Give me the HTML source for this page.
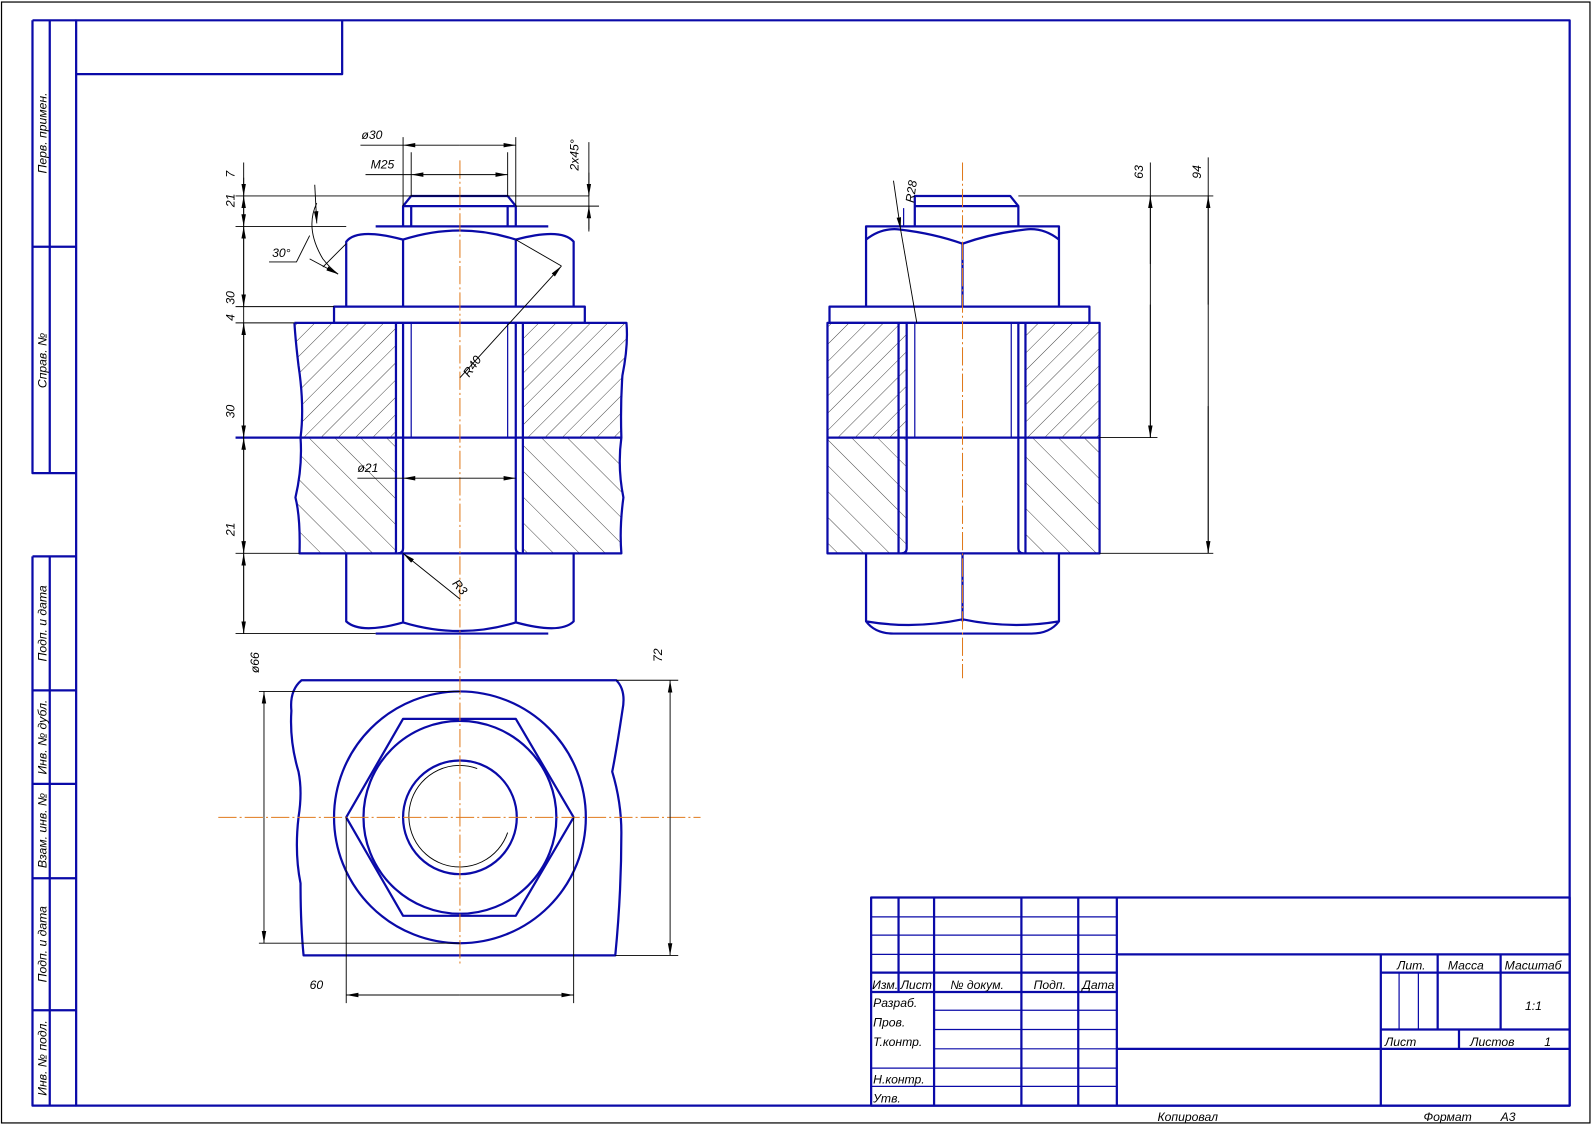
<!DOCTYPE html>
<html><head><meta charset="utf-8"><style>
html,body{margin:0;padding:0;background:#fff;}
svg{display:block}
text{font-family:"Liberation Sans","DejaVu Sans",sans-serif;font-style:italic;fill:#000}
.b{stroke:#0a0aa8;stroke-width:2.2;fill:none;stroke-linejoin:round}
.bt{stroke:#0a0aa8;stroke-width:1.2;fill:none}
.t{stroke:#000;stroke-width:0.9;fill:none}
.h{stroke:#000;stroke-width:0.7}
.c{stroke:#e07a1c;stroke-width:1;stroke-dasharray:18 3 2 3;fill:none}
.tb text{font-size:12px}
.v text{font-size:12px}
</style></head><body>
<svg width="1592" height="1127" viewBox="0 0 1568 1110" preserveAspectRatio="none" xmlns="http://www.w3.org/2000/svg">
<defs>
<marker id="a" viewBox="0 0 12 6" refX="12" refY="3" markerWidth="12" markerHeight="6" orient="auto" markerUnits="userSpaceOnUse"><path d="M0,0.8 L12,3 L0,5.2z" fill="#000"/></marker>
<pattern id="p1" width="12" height="12" patternUnits="userSpaceOnUse" patternTransform="rotate(45)"><line x1="0" y1="0" x2="0" y2="12" class="h"/></pattern>
<pattern id="p2" width="18" height="18" patternUnits="userSpaceOnUse" patternTransform="rotate(-45)"><line x1="0" y1="0" x2="0" y2="18" class="h"/></pattern>
</defs>

<!-- frames -->
<rect x="1.5" y="2" width="1564.5" height="1104" fill="none" stroke="#000" stroke-width="1.2"/>
<rect x="75" y="20" width="1471" height="1069" class="b"/>
<g class="b">
<path d="M32,20 V466 H75 M49,20 V466 M32,243 H75 M32,20 H75"/>
<path d="M32,548 V1089 H75 M49,548 V1089 M32,548 H75 M32,680 H75 M32,772 H75 M32,865 H75 M32,995 H75"/>
<path d="M75,73 H337 V20"/>
</g>
<g class="v" font-size="12">
<text transform="translate(46,131) rotate(-90)" text-anchor="middle">Перв. примен.</text>
<text transform="translate(46,355) rotate(-90)" text-anchor="middle">Справ. №</text>
<text transform="translate(46,614) rotate(-90)" text-anchor="middle">Подп. и дата</text>
<text transform="translate(46,726) rotate(-90)" text-anchor="middle">Инв. № дубл.</text>
<text transform="translate(46,818) rotate(-90)" text-anchor="middle">Взам. инв. №</text>
<text transform="translate(46,930) rotate(-90)" text-anchor="middle">Подп. и дата</text>
<text transform="translate(46,1042) rotate(-90)" text-anchor="middle">Инв. № подл.</text>
</g>

<!-- ===== FRONT VIEW ===== -->
<path d="M290,318 H390 V431 H296 Q300,400 294,360 Q291,335 290,318z" fill="url(#p1)"/>
<path d="M515,318 H617 Q619,340 613,370 Q611,400 612,431 H515z" fill="url(#p1)"/>
<path d="M296,431 H390 V545 H295 Q296,510 291,490 Q298,460 296,431z" fill="url(#p2)"/>
<path d="M515,431 H612 Q608,460 614,490 Q610,520 612,545 H515z" fill="url(#p2)"/>
<g class="b">
<path d="M397,223 V203 L405,193 H500 L508,203 V223 M397,203 H508"/>
<path d="M405,203 V223 M500,203 V223"/>
<path d="M341,302 V238 Q352,224 397,236 Q453,218 508,236 Q553,224 565,238 V302 M397,236 V302 M508,236 V302 M370,223 H540"/>
<rect x="329" y="302" width="247" height="16"/>
<path d="M290,318 H617 Q619,340 613,370 Q611,400 612,431 Q608,460 614,490 Q610,520 612,545 H295 Q296,510 291,490 Q298,460 296,431 Q300,400 294,360 Q291,335 290,318"/>
<path d="M232,431 H612 M390,318 V545 M515,318 V545"/>
<path d="M397,318 V540 Q397,545 392,545 M508,318 V540 Q508,545 513,545"/>
<path d="M341,545 V612 Q355,625 397,613 Q453,630 508,613 Q552,625 565,612 V545 M397,545 V613 M508,545 V613 M370,624 H540"/>
</g>
<path class="bt" d="M405,318 V431 M500,318 V431"/>
<line x1="453" y1="158" x2="453" y2="640" class="c"/>
<g class="t">
<path d="M240,160 V624"/>
<path d="M232,193 H580 M232,223 H341 M232,302 H329 M232,318 H290 M232,545 H295 M232,624 H370"/>
<path d="M240,175 V193" marker-end="url(#a)"/>
<path d="M240,210 V193" marker-end="url(#a)"/><path d="M240,210 V223" marker-end="url(#a)"/>
<path d="M240,260 V223" marker-end="url(#a)"/><path d="M240,260 V302" marker-end="url(#a)"/>
<path d="M240,370 V318" marker-end="url(#a)"/><path d="M240,370 V431" marker-end="url(#a)"/>
<path d="M240,490 V431" marker-end="url(#a)"/><path d="M240,490 V545" marker-end="url(#a)"/>
<path d="M240,590 V545" marker-end="url(#a)"/><path d="M240,590 V624" marker-end="url(#a)"/>
<path d="M397,135 V203 M508,135 V203 M405,150 V193 M500,150 V193"/>
<path d="M355,143 H397 M453,143 H397" marker-end="url(#a)"/><path d="M453,143 H508" marker-end="url(#a)"/>
<path d="M360,172 H405 M453,172 H405" marker-end="url(#a)"/><path d="M453,172 H500" marker-end="url(#a)"/>
<path d="M580,140 V228"/><path d="M580,170 V193" marker-end="url(#a)"/><path d="M580,226 V203" marker-end="url(#a)"/>
<path d="M508,203 H590"/>
<path d="M312,200 Q300,225 318,255 Q325,264 333,270"/>
<path d="M310,182 L312,220" marker-end="url(#a)"/>
<path d="M305,255 L333,270" marker-end="url(#a)"/>
<path d="M318,263 L341,240"/>
<path d="M265,258 H292 L305,232"/>
<path d="M453,372 L553,262" marker-end="url(#a)"/>
<path d="M508,236 L553,262"/>
<path d="M352,471 H397 M453,471 H397" marker-end="url(#a)"/><path d="M453,471 H508" marker-end="url(#a)"/>
<path d="M453,590 L397,545" marker-end="url(#a)"/>
</g>
<g class="v">
<text transform="translate(231,175) rotate(-90)">7</text>
<text transform="translate(231,204) rotate(-90)">21</text>
<text transform="translate(231,300) rotate(-90)">30</text>
<text transform="translate(231,316) rotate(-90)">4</text>
<text transform="translate(231,412) rotate(-90)">30</text>
<text transform="translate(231,528) rotate(-90)">21</text>
<text x="356" y="137" font-size="11">ø30</text>
<text x="365" y="166" font-size="11">M25</text>
<text transform="translate(570,168) rotate(-90)" font-size="11">2x45°</text>
<text x="268" y="253" font-size="12">30°</text>
<text transform="translate(462,372) rotate(-55)" font-size="11">R40</text>
<text x="352" y="465" font-size="11">ø21</text>
<text transform="translate(445,575) rotate(50)" font-size="11">R3</text>
</g>

<!-- ===== SIDE VIEW ===== -->
<rect x="815" y="318" width="78" height="113" fill="url(#p1)"/>
<rect x="1010" y="318" width="73" height="113" fill="url(#p1)"/>
<rect x="815" y="431" width="78" height="114" fill="url(#p2)"/>
<rect x="1010" y="431" width="73" height="114" fill="url(#p2)"/>
<g class="b">
<path d="M901,223 V193 H995 L1003,203 V223 M901,203 H1003"/>
<path d="M853,302 V223 H1043 V302 M853,236 Q868,224 886,226 Q920,230 948,240 Q976,230 1010,226 Q1028,224 1043,236 M948,240 V302"/>
<rect x="817" y="302" width="256" height="16"/>
<rect x="815" y="318" width="268" height="227"/>
<path d="M815,431 H1083 M885,318 V545 M1010,318 V545 M893,318 V540 Q893,545 888,545 M1003,318 V540 Q1003,545 1008,545"/>
<path d="M853,545 V612 Q862,624 880,624 H1016 Q1034,624 1043,612 V545 M853,612 Q900,620 948,610 Q996,620 1043,612 M948,545 V612"/>
</g>
<path class="bt" d="M901,318 V431 M996,318 V431 M890,205 V223"/>
<line x1="948" y1="160" x2="948" y2="668" class="c"/>
<g class="t">
<path d="M1003,193 H1195 M1083,431 H1140 M1083,545 H1195"/>
<path d="M1133,160 V431"/><path d="M1133,260 V193" marker-end="url(#a)"/><path d="M1133,300 V431" marker-end="url(#a)"/>
<path d="M1190,155 V545"/><path d="M1190,300 V193" marker-end="url(#a)"/><path d="M1190,400 V545" marker-end="url(#a)"/>
<path d="M903,318 L887,226"/><path d="M880,178 L887,226" marker-end="url(#a)"/>
</g>
<g class="v">
<text transform="translate(1126,176) rotate(-90)" font-size="11">63</text>
<text transform="translate(1183,176) rotate(-90)" font-size="11">94</text>
<text transform="translate(900,200) rotate(-82)" font-size="11">R28</text>
</g>

<!-- ===== TOP VIEW ===== -->
<g class="b">
<path d="M297,670 H607 Q617,680 613,700 Q607,740 603,760 Q612,790 612,820 Q612,880 606,941 H299 Q296,910 296,870 Q290,840 294,805 Q298,780 294,760 Q285,730 287,700 Q285,680 297,670z"/>
<circle cx="453" cy="805" r="124"/>
<path d="M341,805 L397,708 H508 L565,805 L508,902 H397z"/>
<circle cx="453" cy="805" r="95"/>
<circle cx="453" cy="805" r="56"/>
</g>
<path d="M470,757 A50,50 0 1,0 500,820" stroke="#000" stroke-width="0.9" fill="none"/>
<line x1="215" y1="805" x2="690" y2="805" class="c"/>
<line x1="453" y1="640" x2="453" y2="950" class="c"/>
<g class="t">
<path d="M255,681 H453 M255,929 H453"/>
<path d="M260,805 V681" marker-end="url(#a)"/><path d="M260,805 V929" marker-end="url(#a)"/>
<path d="M607,670 H668 M606,941 H668"/>
<path d="M660,805 V670" marker-end="url(#a)"/><path d="M660,805 V941" marker-end="url(#a)"/>
<path d="M341,805 V988 M565,805 V988"/>
<path d="M453,980 H341" marker-end="url(#a)"/><path d="M453,980 H565" marker-end="url(#a)"/>
</g>
<g class="v">
<text transform="translate(255,663) rotate(-90)" font-size="11">ø66</text>
<text transform="translate(652,652) rotate(-90)" font-size="11">72</text>
<text x="305" y="974" font-size="12">60</text>
</g>

<!-- ===== TITLE BLOCK ===== -->
<g class="b">
<rect x="858" y="884" width="688" height="205"/>
<path d="M885,884 V977 M920,884 V1089 M1006,884 V1089 M1062,884 V1089 M1100,884 V1089"/>
<path d="M1100,940 H1546 M1100,1033 H1546 M1360,940 V1089 M858,958 H1100 M858,977 H1100 M1360,958 H1546 M1360,1014 H1546 M1416,940 V1014 M1478,940 V1014 M1437,1014 V1033"/>
</g>
<g class="bt">
<path d="M858,903 H1100 M858,921 H1100 M858,940 H1100 M920,995 H1100 M920,1014 H1100 M920,1033 H1100 M858,1052 H1100 M858,1070 H1100 M1378,958 V1014 M1397,958 V1014"/>
</g>
<g class="tb">
<text x="859" y="974" font-size="11">Изм.</text><text x="887" y="974" font-size="11">Лист</text>
<text x="936" y="974">№ докум.</text><text x="1018" y="974">Подп.</text><text x="1066" y="974">Дата</text>
<text x="860" y="992">Разраб.</text><text x="860" y="1011">Пров.</text><text x="860" y="1030">Т.контр.</text>
<text x="860" y="1067">Н.контр.</text><text x="860" y="1086">Утв.</text>
<text x="1376" y="955">Лит.</text><text x="1426" y="955">Масса</text><text x="1482" y="955">Масштаб</text>
<text x="1502" y="995" font-size="20">1:1</text>
<text x="1364" y="1030">Лист</text><text x="1448" y="1030">Листов</text><text x="1521" y="1030">1</text>
<text x="1140" y="1104">Копировал</text><text x="1402" y="1104">Формат</text><text x="1478" y="1104">A3</text>
</g>
</svg>
</body></html>
